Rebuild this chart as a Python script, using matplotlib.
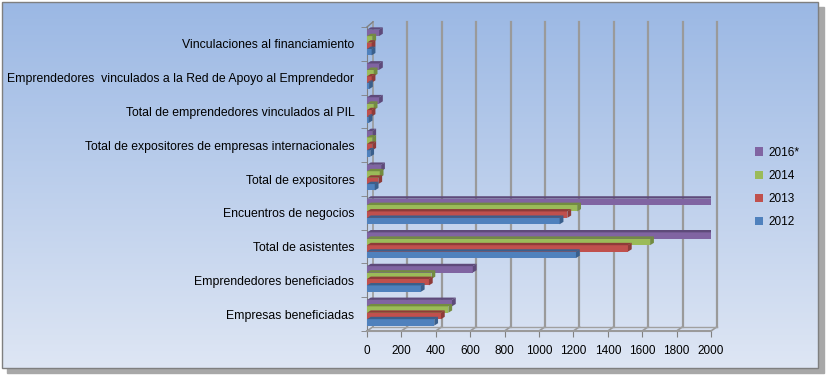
import matplotlib.pyplot as plt
import numpy as np
from matplotlib.patches import Polygon, Rectangle

# ------------------------------------------------------------------
# data (top to bottom as shown)
categories = [
    "Vinculaciones al financiamiento",
    "Emprendedores  vinculados a la Red de Apoyo al Emprendedor",
    "Total de emprendedores vinculados al PIL",
    "Total de expositores de empresas internacionales",
    "Total de expositores",
    "Encuentros de negocios",
    "Total de asistentes",
    "Emprendedores beneficiados",
    "Empresas beneficiadas",
]
years = ["2016*", "2014", "2013", "2012"]
v2016 = [70, 70, 70, 31, 82, 2010, 2010, 615, 494]
v2014 = [31, 39, 39, 31, 74, 1222, 1646, 375, 473]
v2013 = [27, 27, 27, 31, 66, 1165, 1517, 360, 430]
v2012 = [27, 12, 10, 19, 45, 1120, 1215, 313, 391]
xticks = list(range(0, 2001, 200))

series = [v2016, v2014, v2013, v2012]
colors = ["#8064A2", "#9BBB59", "#C0504D", "#4F81BD"]
dark = ["#5E4A7A", "#738C40", "#8E3B39", "#3A5F8C"]

plt.rcParams["font.family"] = ["Liberation Sans", "DejaVu Sans"]

W, H = 829, 377
fig = plt.figure(figsize=(W / 100, H / 100), dpi=100)
fig.patch.set_facecolor("white")

# background panel with gradient and shadow
bg = fig.add_axes([0, 0, 1, 1])
bg.set_xlim(0, W)
bg.set_ylim(H, 0)
bg.axis("off")
bg.add_patch(Rectangle((7, 7), 817, 366, color="#a8a8a8", zorder=0))
grad = np.linspace(0, 1, 256)[:, None]
top = np.array([155, 184, 228]) / 255
bot = np.array([222, 230, 244]) / 255
img = top + (bot - top) * grad[..., None]
img = np.repeat(img, 2, axis=1)
bg.imshow(img, extent=[2, 818, 368, 2], aspect="auto", zorder=1)
bg.add_patch(Rectangle((2, 2), 816, 366, fill=False, ec="#7f7f7f", lw=1, zorder=2))

# main plot
ax = fig.add_axes([367 / W, 1 - 331 / H, 344 / W, 304 / H])
ax.patch.set_alpha(0)
n = len(categories)
h = 0.19
pos = np.arange(n)
dx, dy = 22, 0.07

for i, (vals, c, d) in enumerate(zip(series, colors, dark)):
    y0 = pos - 0.42 + i * h
    for y, v in zip(y0, vals):
        v = min(v, 2010)
        ax.add_patch(Rectangle((0, y), v, h, fc=c, ec="none", zorder=3 + i))
        ax.add_patch(Polygon([(0, y), (v, y), (v + dx, y - dy), (dx, y - dy)],
                             closed=True, fc=d, ec="none", zorder=3 + i))
        ax.add_patch(Polygon([(v, y), (v + dx, y - dy), (v + dx, y + h - dy), (v, y + h)],
                             closed=True, fc=d, ec="none", zorder=3 + i))

ax.set_xlim(0, 2000)
ax.set_ylim(n - 0.5, -0.5)
ax.set_xticks(xticks)
ax.set_xticklabels([str(t) for t in xticks], fontsize=8.5)
ax.set_yticks(pos)
ax.set_yticklabels(categories, fontsize=8.8)
ax.set_yticks(np.arange(n + 1) - 0.5, minor=True)
ax.tick_params(axis="y", which="major", length=0, pad=9)
ax.tick_params(axis="y", which="minor", length=4, color="#808080")
ax.tick_params(axis="x", length=4, color="#808080", pad=6)
# back-wall gridlines with a short floor diagonal
gtr = ax.get_xaxis_transform()
gx, gy = 35, 0.014
for t in xticks:
    ax.plot([t, t + gx], [0, gy], color="#9a9a9a", lw=1.2, zorder=1,
            transform=gtr, clip_on=False)
for t in xticks[1:]:
    ax.plot([t + gx, t + gx], [gy, 1.017], color="#9a9a9a", lw=1.6, zorder=1,
            transform=gtr, clip_on=False)
ax.plot([gx, gx], [gy, 1.017], color="#9a9a9a", lw=1.2, zorder=1,
        transform=gtr, clip_on=False)
ax.plot([0, gx], [1, 1.017], color="#808080", lw=1, transform=gtr, clip_on=False)
ax.plot([gx, 2000 + gx], [gy, gy], color="#a0a0a0", lw=1, zorder=1,
        transform=gtr, clip_on=False)
for s in ["top", "right"]:
    ax.spines[s].set_visible(False)
ax.spines["left"].set_color("#808080")
ax.spines["bottom"].set_color("#9a9a9a")
ax.spines["bottom"].set_linewidth(1.5)

# legend
handles = [Rectangle((0, 0), 1, 1, fc=c, ec="none") for c in colors]
leg = fig.legend(handles, years, loc="upper left", bbox_to_anchor=(744 / W, 1 - 136 / H),
                 frameon=False, fontsize=8.5, handlelength=0.7, handleheight=0.7,
                 labelspacing=0.95, handletextpad=0.45)

fig.savefig("out.png", dpi=100)
